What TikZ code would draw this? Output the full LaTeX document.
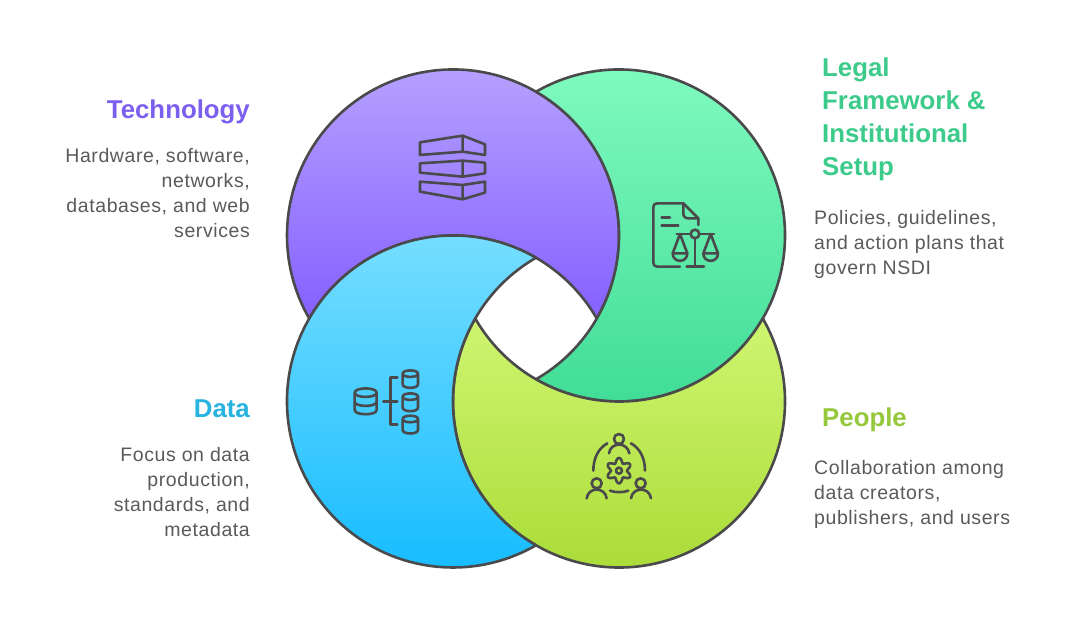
\documentclass[tikz,border=0pt]{standalone}
\usepackage{fontspec}
\setmainfont{Liberation Sans}
\newfontfamily\bodyf[LetterSpace=3]{Liberation Sans}
\usetikzlibrary{calc}
\definecolor{ink}{HTML}{4A4A4C}
\definecolor{txt}{HTML}{5A5A5A}
\definecolor{purpleA}{HTML}{B9A6FF}
\definecolor{purpleB}{HTML}{8560FF}
\definecolor{greenA}{HTML}{84FCC2}
\definecolor{greenB}{HTML}{3FDC96}
\definecolor{blueA}{HTML}{7CE0FF}
\definecolor{blueB}{HTML}{16BCFF}
\definecolor{limeA}{HTML}{CFF570}
\definecolor{limeB}{HTML}{A8DA34}
\definecolor{techC}{HTML}{7B5FEF}
\definecolor{legalC}{HTML}{3CCB8A}
\definecolor{dataC}{HTML}{27B3E0}
\definecolor{peopleC}{HTML}{96C83C}
\tikzset{
  ring/.style={draw=ink,line width=2.6pt,line join=round},
  ico/.style={draw=ink,line width=2.6pt,line cap=round,line join=round},
  headR/.style={font=\bfseries\fontsize{25.8}{33.2}\selectfont,inner sep=0pt,align=right,anchor=north east},
  headL/.style={font=\bfseries\fontsize{25.8}{33.2}\selectfont,inner sep=0pt,align=left,anchor=north west},
  bodyR/.style={font=\bodyf\fontsize{19.5}{24.9}\selectfont,text=txt,inner sep=0pt,align=right,anchor=north east},
  bodyL/.style={font=\bodyf\fontsize{19.5}{24.9}\selectfont,text=txt,inner sep=0pt,align=left,anchor=north west},
  zoomed/.style={x=0.3333pt,y=-0.3333pt}
}
\begin{document}
\begin{tikzpicture}[x=1pt,y=1pt]
\useasboundingbox (0,0) rectangle (1080,634);
\fill[white] (0,0) rectangle (1080,634);
\coordinate (P) at (453,398.5);
\coordinate (G) at (619,398.5);
\coordinate (B) at (453,232.5);
\coordinate (L) at (619,232.5);
\def\R{166pt}
% crescents
\path[ring,top color=purpleA,bottom color=purpleB] ($(P)+(60:\R)$) arc[start angle=60,end angle=210,radius=\R] arc[start angle=150,end angle=30,radius=\R] arc[start angle=-30,end angle=60,radius=\R] -- cycle;
\path[ring,top color=greenA,bottom color=greenB] ($(G)+(120:\R)$) arc[start angle=120,end angle=-120,radius=\R] arc[start angle=-60,end angle=60,radius=\R] -- cycle;
\path[ring,top color=limeA,bottom color=limeB] ($(L)+(30:\R)$) arc[start angle=30,end angle=-210,radius=\R] arc[start angle=210,end angle=330,radius=\R] -- cycle;
\path[ring,top color=blueA,bottom color=blueB] ($(B)+(60:\R)$) arc[start angle=60,end angle=300,radius=\R] arc[start angle=240,end angle=120,radius=\R] -- cycle;
% technology icon
\begin{scope}[shift={(390pt,524pt)},zoomed]
\draw[ico] (90,97) -- (218,77) -- (285,103) -- (285,135) -- (218,125) -- (90,135) -- cycle (218,77) -- (218,125);
\draw[ico] (90,160) -- (218,152) -- (285,158) -- (285,190) -- (218,200) -- (90,188) -- cycle (218,152) -- (218,200);
\draw[ico] (90,215) -- (218,225) -- (285,215) -- (285,248) -- (218,268) -- (90,245) -- cycle (218,225) -- (218,268);
\end{scope}
% legal icon
\begin{scope}[shift={(630pt,449pt)},zoomed]
\draw[ico] (150,245) -- (82,245) .. controls (74,245) and (70,241) .. (70,233) -- (70,67) .. controls (70,59) and (74,55) .. (82,55) -- (160,55) -- (205,100) -- (205,120);
\draw[ico] (160,55) -- (160,85) .. controls (160,95) and (166,100) .. (176,100) -- (205,100);
\draw[ico] (95,97) -- (120,97) (95,122) -- (145,122);
\draw[ico] (195,147) circle[radius=4.3pt];
\draw[ico] (140,147) -- (182,147) (208,147) -- (252,147) (195,160) -- (195,245) (170,245) -- (222,245);
\draw[ico] (150,147) -- (128,205) .. controls (128,235) and (172,235) .. (172,205) -- (150,147) (128,205) -- (172,205);
\draw[ico] (242,147) -- (220,205) .. controls (220,235) and (264,235) .. (264,205) -- (242,147) (220,205) -- (264,205);
\end{scope}
% data icon
\begin{scope}[shift={(340pt,279pt)},zoomed]
\draw[ico] (44,113) .. controls (44,96) and (110,96) .. (110,113) .. controls (110,130) and (44,130) .. (44,113) -- (44,165) .. controls (44,182) and (110,182) .. (110,165) -- (110,113);
\draw[ico] (44,140) .. controls (44,157) and (110,157) .. (110,140);
\draw[ico] (130,140) -- (172,140) (172,68) -- (152,68) -- (152,208) -- (172,208);
\foreach \t/\b in {56/88,125/158,192/225}{
\draw[ico] (188,\t) .. controls (188,{\t-13}) and (234,{\t-13}) .. (234,\t) .. controls (234,{\t+13}) and (188,{\t+13}) .. (188,\t) -- (188,\b) .. controls (188,{\b+14}) and (234,{\b+14}) .. (234,\b) -- (234,\t);
}
\end{scope}
% people icon
\begin{scope}[shift={(570pt,214pt)},zoomed]
\draw[ico] (147,57) circle[radius=5pt] (80,190) circle[radius=5pt] (212,190) circle[radius=5pt];
\draw[ico] (117,100) .. controls (122,65) and (172,65) .. (178,100);
\draw[ico] (50,235) .. controls (55,200) and (105,200) .. (110,235);
\draw[ico] (183,235) .. controls (188,200) and (238,200) .. (243,235);
\draw[ico] (112,70) .. controls (85,85) and (70,115) .. (70,152);
\draw[ico] (183,70) .. controls (210,85) and (225,115) .. (225,152);
\draw[ico] (120,212) .. controls (135,218) and (160,218) .. (175,212);
\draw[ico] plot[domain=0:360,samples=145] ({147+(31-7*cos(6*\x))*cos(\x)},{152+(31-7*cos(6*\x))*sin(\x)}) -- cycle;
\draw[ico] (147,152) circle[radius=3pt];
\end{scope}
% labels
\node[headR,text=techC] (tech) at (250,534.5) {Technology};
\node[bodyR] (techb) at (250,486) {Hardware, software,\\networks,\\databases, and web\\services};
\node[headL,text=legalC] (legal) at (822,576.5) {Legal\\Framework \&\\Institutional\\Setup};
\node[bodyL] (legalb) at (814,424) {Policies, guidelines,\\and action plans that\\govern NSDI};
\node[headR,text=dataC] (data) at (250,234.5) {Data};
\node[bodyR] (datab) at (250,187) {Focus on data\\production,\\standards, and\\metadata};
\node[headL,text=peopleC] (people) at (822,226.5) {People};
\node[bodyL] (peopleb) at (814,174) {Collaboration among\\data creators,\\publishers, and users};
\end{tikzpicture}
\end{document}
